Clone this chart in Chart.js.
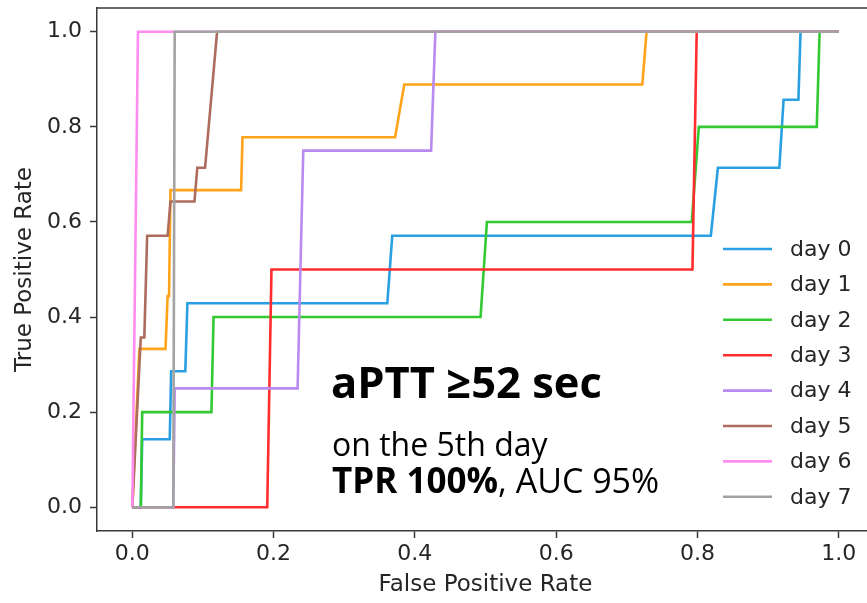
<!DOCTYPE html>
<html>
<head>
<meta charset="utf-8">
<script src="https://cdn.jsdelivr.net/npm/chart.js@4/dist/chart.umd.min.js"></script>
<style>
html, body { margin:0; padding:0; overflow:hidden; background:#fff; }
#wrap { position:relative; width:880px; height:603px; }
</style>
</head>
<body>
<div id="wrap"><canvas id="c" width="880" height="603"></canvas></div>
<script>
// ---- data ----
const dayLabels = ['day 0','day 1','day 2','day 3','day 4','day 5','day 6','day 7'];
const dayColors = ['#2a9fe2','#ffa41a','#33c933','#ff2d2d','#b98af0','#ad6c5e','#ff8cee','#a3a3a3'];
const xTicks = [0.0, 0.2, 0.4, 0.6, 0.8, 1.0];
const yTicks = [0.0, 0.2, 0.4, 0.6, 0.8, 1.0];

const fpr0 = [0, 0.012, 0.014, 0.053, 0.055, 0.075, 0.078, 0.361, 0.368, 0.819, 0.829, 0.916, 0.922, 0.943, 0.946, 1];
const tpr0 = [0, 0, 0.143, 0.143, 0.286, 0.286, 0.429, 0.429, 0.571, 0.571, 0.714, 0.714, 0.857, 0.857, 1, 1];
const fpr1 = [0, 0.01, 0.047, 0.05, 0.052, 0.054, 0.154, 0.156, 0.372, 0.385, 0.722, 0.728, 1];
const tpr1 = [0, 0.333, 0.333, 0.444, 0.444, 0.667, 0.667, 0.778, 0.778, 0.889, 0.889, 1, 1];
const fpr2 = [0, 0.012, 0.014, 0.112, 0.115, 0.493, 0.502, 0.792, 0.802, 0.969, 0.973, 1];
const tpr2 = [0, 0, 0.2, 0.2, 0.4, 0.4, 0.6, 0.6, 0.8, 0.8, 1, 1];
const fpr3 = [0, 0.191, 0.197, 0.793, 0.799, 1];
const tpr3 = [0, 0, 0.5, 0.5, 1, 1];
const fpr4 = [0, 0.058, 0.06, 0.234, 0.242, 0.423, 0.429, 1];
const tpr4 = [0, 0, 0.25, 0.25, 0.75, 0.75, 1, 1];
const fpr5 = [0, 0.012, 0.017, 0.021, 0.05, 0.054, 0.088, 0.092, 0.103, 0.12, 1];
const tpr5 = [0, 0.357, 0.357, 0.571, 0.571, 0.643, 0.643, 0.714, 0.714, 1, 1];
const fpr6 = [0, 0.008, 1];
const tpr6 = [0, 1, 1];
const fpr7 = [0, 0.058, 0.06, 1];
const tpr7 = [0, 0, 1, 1];

const fprs = [fpr0, fpr1, fpr2, fpr3, fpr4, fpr5, fpr6, fpr7];
const tprs = [tpr0, tpr1, tpr2, tpr3, tpr4, tpr5, tpr6, tpr7];

const TEXT = '#262626';
const AX = '#3a3a3a';
const FONT = 'DejaVu Sans';

const datasets = dayLabels.map((lab, i) => ({
  label: lab,
  data: fprs[i].map((x, k) => ({x: x, y: tprs[i][k]})),
  borderColor: dayColors[i],
  backgroundColor: dayColors[i],
  borderWidth: 2.6,
  pointRadius: 0,
  showLine: true,
  tension: 0,
  fill: false,
  order: dayLabels.length - 1 - i
}));

const extras = {
  id: 'extras',
  afterDraw(chart) {
    const ctx = chart.ctx, a = chart.chartArea;
    ctx.save();
    // top & right spine
    ctx.strokeStyle = AX; ctx.lineWidth = 1.5;
    ctx.beginPath();
    ctx.moveTo(a.left, a.top); ctx.lineTo(a.right, a.top); ctx.lineTo(a.right, a.bottom);
    ctx.stroke();
    // legend
    const lx0 = 723, lx1 = 772, tx = 790, y0 = 249, dy = 35.4;
    ctx.font = '22px "' + FONT + '"';
    ctx.textBaseline = 'middle';
    ctx.textAlign = 'left';
    chart.data.datasets.forEach((ds, i) => {
      const y = y0 + i * dy;
      ctx.strokeStyle = ds.borderColor; ctx.lineWidth = 2.6;
      ctx.beginPath(); ctx.moveTo(lx0, y); ctx.lineTo(lx1, y); ctx.stroke();
      ctx.fillStyle = TEXT;
      ctx.fillText(ds.label, tx, y + 1);
    });
    // annotation
    ctx.fillStyle = '#000';
    ctx.textBaseline = 'alphabetic';
    ctx.font = 'bold 43.5px "Open Sans"';
    ctx.fillText('aPTT \u226552 sec', 331, 398);
    ctx.font = '32px "Open Sans"';
    ctx.fillText('on the 5th day', 332, 456);
    ctx.font = 'bold 35px "Open Sans"';
    const p1 = 'TPR 100%';
    ctx.fillText(p1, 332, 493);
    const w = ctx.measureText(p1).width;
    ctx.font = '34px "Open Sans"';
    ctx.fillText(', AUC 95%', 332 + w, 493);
    ctx.restore();
  }
};

new Chart(document.getElementById('c'), {
  type: 'scatter',
  data: { datasets: datasets },
  options: {
    responsive: false,
    animation: false,
    devicePixelRatio: 1,
    layout: { padding: { left: 0, top: 8, right: 6, bottom: 0 } },
    plugins: { legend: { display: false }, tooltip: { enabled: false } },
    scales: {
      x: {
        type: 'linear', min: -0.05, max: 1.05,
        afterBuildTicks: s => { s.ticks = xTicks.map(v => ({value: v})); },
        afterFit: s => { s.height = 72; s.paddingLeft = 0; s.paddingRight = 0; },
        ticks: { callback: v => Number(v).toFixed(1), color: TEXT, font: { family: FONT, size: 22 }, padding: 3, maxRotation: 0, autoSkip: false },
        grid: { display: true, drawOnChartArea: false, drawTicks: true, tickLength: 7, tickWidth: 1.5, tickColor: AX, color: AX },
        border: { display: true, color: AX, width: 1.5 },
        title: { display: true, text: 'False Positive Rate', color: TEXT, font: { family: FONT, size: 23 }, padding: { top: 0, bottom: 4 } }
      },
      y: {
        type: 'linear', min: -0.05, max: 1.05,
        afterBuildTicks: s => { s.ticks = yTicks.map(v => ({value: v})); },
        afterFit: s => { s.width = 97; s.paddingTop = 0; s.paddingBottom = 0; },
        ticks: { callback: v => Number(v).toFixed(1), color: TEXT, font: { family: FONT, size: 22 }, padding: 8, autoSkip: false },
        grid: { display: true, drawOnChartArea: false, drawTicks: true, tickLength: 7, tickWidth: 1.5, tickColor: AX, color: AX },
        border: { display: true, color: AX, width: 1.5 },
        title: { display: true, text: 'True Positive Rate', color: TEXT, font: { family: FONT, size: 23 }, padding: { top: 11, bottom: 0 } }
      }
    }
  },
  plugins: [extras]
});
</script>
</body>
</html>
